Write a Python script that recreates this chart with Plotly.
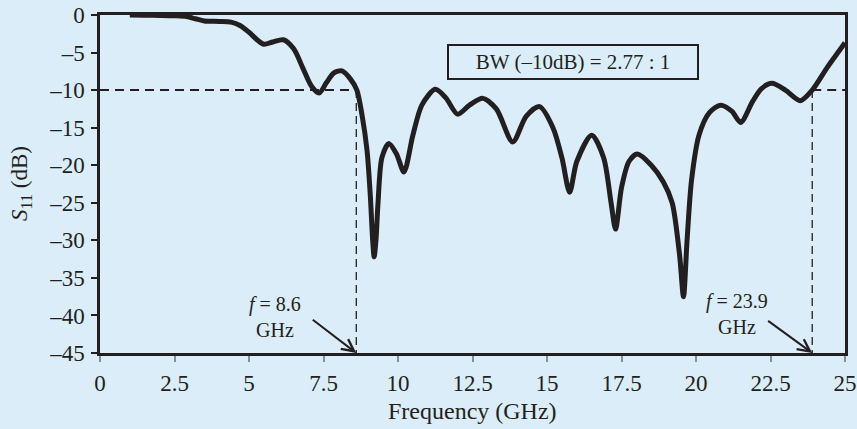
import plotly.graph_objects as go

# ---- data ----
freq_ghz = [1.0, 1.5, 2.0, 2.5, 2.9, 3.2, 3.5, 4.0, 4.4, 4.7, 5.0, 5.3, 5.5, 5.8, 6.15,
            6.5, 6.8, 7.1, 7.35, 7.6, 7.85, 8.12, 8.4, 8.62, 8.8, 8.96, 9.07, 9.15, 9.2,
            9.26, 9.33, 9.46, 9.69, 9.95, 10.2, 10.5, 10.8, 11.25, 11.6, 12.0, 12.4, 12.85,
            13.3, 13.85, 14.3, 14.75, 15.2, 15.5, 15.76, 16.0, 16.5, 16.9, 17.15, 17.3,
            17.5, 17.75, 18.03, 18.5, 18.9, 19.2, 19.45, 19.58, 19.7, 19.85, 20.1, 20.45,
            20.83, 21.2, 21.5, 21.9, 22.2, 22.55, 23.0, 23.5, 23.9, 24.4, 24.8, 25.0]
s11_db = [0.0, -0.02, -0.05, -0.1, -0.2, -0.5, -0.8, -0.85, -0.95, -1.4, -2.3, -3.4, -3.9, -3.6, -3.3,
          -4.5, -7.0, -9.5, -10.4, -9.0, -7.7, -7.45, -8.5, -10.0, -13.5, -18.0, -24.0, -30.0, -32.2,
          -30.0, -25.0, -19.0, -17.1, -18.5, -20.9, -16.0, -12.0, -9.9, -11.0, -13.2, -12.0, -11.1,
          -12.5, -16.9, -13.5, -12.2, -15.0, -19.0, -23.6, -19.5, -16.0, -19.0, -25.0, -28.5,
          -23.0, -19.5, -18.5, -20.0, -22.2, -25.0, -32.0, -37.5, -30.0, -22.0, -16.0, -13.0,
          -12.0, -12.8, -14.3, -11.5, -9.8, -9.1, -10.0, -11.4, -10.0, -7.0, -4.8, -3.7]

threshold_db = -10
f_low = 8.6
f_high = 23.9
bw_text = "BW (–10dB) = 2.77 : 1"
x_range = [0, 25]
y_range = [-45, 0]
x_ticks = [0, 2.5, 5, 7.5, 10, 12.5, 15, 17.5, 20, 22.5, 25]
x_ticklabels = ["0", "2.5", "5", "7.5", "10", "12.5", "15", "17.5", "20", "22.5", "25"]
y_ticks = [0, -5, -10, -15, -20, -25, -30, -35, -40, -45]
y_ticklabels = ["0", "–5", "–10", "–15", "–20", "–25", "–30", "–35", "–40", "–45"]

BG = "#DAEDF8"
INK = "#231F20"
FONT = "Liberation Serif, Times New Roman, serif"

fig = go.Figure()

# threshold dashed lines
fig.add_trace(go.Scatter(x=[x_range[0], f_low], y=[threshold_db, threshold_db], mode="lines",
                         line=dict(color=INK, width=2, dash="9px,6px"), hoverinfo="skip"))
fig.add_trace(go.Scatter(x=[f_high, x_range[1]], y=[threshold_db, threshold_db], mode="lines",
                         line=dict(color=INK, width=2, dash="9px,6px"), hoverinfo="skip"))
fig.add_trace(go.Scatter(x=[f_low, f_low], y=[threshold_db, y_range[0]], mode="lines",
                         line=dict(color=INK, width=1.3, dash="8px,5px"), hoverinfo="skip"))
fig.add_trace(go.Scatter(x=[f_high, f_high], y=[threshold_db, y_range[0]], mode="lines",
                         line=dict(color=INK, width=1.3, dash="8px,5px"), hoverinfo="skip"))

# S11 curve
fig.add_trace(go.Scatter(x=freq_ghz, y=s11_db, mode="lines",
                         line=dict(color=INK, width=5, shape="spline", smoothing=0.8)))

annotations = [
    dict(x=15.88, y=-6.28, xref="x", yref="y", text=bw_text, showarrow=False,
         font=dict(family=FONT, size=21, color=INK), bordercolor=INK, borderwidth=2,
         bgcolor=BG, width=244, height=28, borderpad=2, xanchor="center", yanchor="middle"),
    dict(x=5.885, y=-40.23, xref="x", yref="y", text=f"<i>f</i> = {f_low}<br>GHz", showarrow=False,
         font=dict(family=FONT, size=20, color=INK), xanchor="center", yanchor="middle"),
    dict(x=21.38, y=-39.77, xref="x", yref="y", text=f"<i>f</i> = {f_high}<br>GHz", showarrow=False,
         font=dict(family=FONT, size=20, color=INK), xanchor="center", yanchor="middle"),
    dict(x=f_low, y=y_range[0], xref="x", yref="y", ax=7.09, ay=-40.43, axref="x", ayref="y",
         text="", showarrow=True, arrowhead=5, arrowsize=1.2, arrowwidth=2, arrowcolor=INK,
         standoff=0, startstandoff=0),
    dict(x=f_high, y=y_range[0], xref="x", yref="y", ax=22.37, ay=-40.57, axref="x", ayref="y",
         text="", showarrow=True, arrowhead=5, arrowsize=1.2, arrowwidth=2, arrowcolor=INK,
         standoff=0, startstandoff=0),
    # axis titles
    dict(x=0, y=0.5, xref="paper", yref="paper", xshift=-79, text="<i>S</i><sub>11</sub> (dB)",
         textangle=-90, showarrow=False, font=dict(family=FONT, size=23, color=INK),
         xanchor="center", yanchor="middle"),
    dict(x=0.5, y=0, xref="paper", yref="paper", yshift=-58, text="Frequency (GHz)",
         showarrow=False, font=dict(family=FONT, size=24, color=INK),
         xanchor="center", yanchor="middle"),
]

fig.update_layout(
    width=857, height=429,
    margin=dict(l=100, r=12, t=15, b=76, autoexpand=False),
    paper_bgcolor=BG, plot_bgcolor=BG,
    showlegend=False,
    font=dict(family=FONT, size=23, color=INK),
    annotations=annotations,
)
fig.update_xaxes(range=x_range, tickvals=x_ticks, ticktext=x_ticklabels, showgrid=False,
                 zeroline=False, showline=True, linecolor=INK, linewidth=2.5, mirror=True,
                 ticks="outside", ticklen=6, tickwidth=2, tickcolor="#8C8C8C", automargin=False,
                 ticklabelstandoff=2, tickfont=dict(family=FONT, size=23, color=INK))
fig.update_yaxes(range=y_range, tickvals=y_ticks, ticktext=y_ticklabels, showgrid=False,
                 zeroline=False, showline=True, linecolor=INK, linewidth=2.5, mirror=True,
                 automargin=False, ticks="outside", ticklen=6, tickwidth=2, tickcolor=INK,
                 ticklabelstandoff=2, tickfont=dict(family=FONT, size=23, color=INK))

fig.write_html("out.html", config={"displayModeBar": False},
               post_script="document.body.style.margin='0';document.body.style.overflow='hidden';")
